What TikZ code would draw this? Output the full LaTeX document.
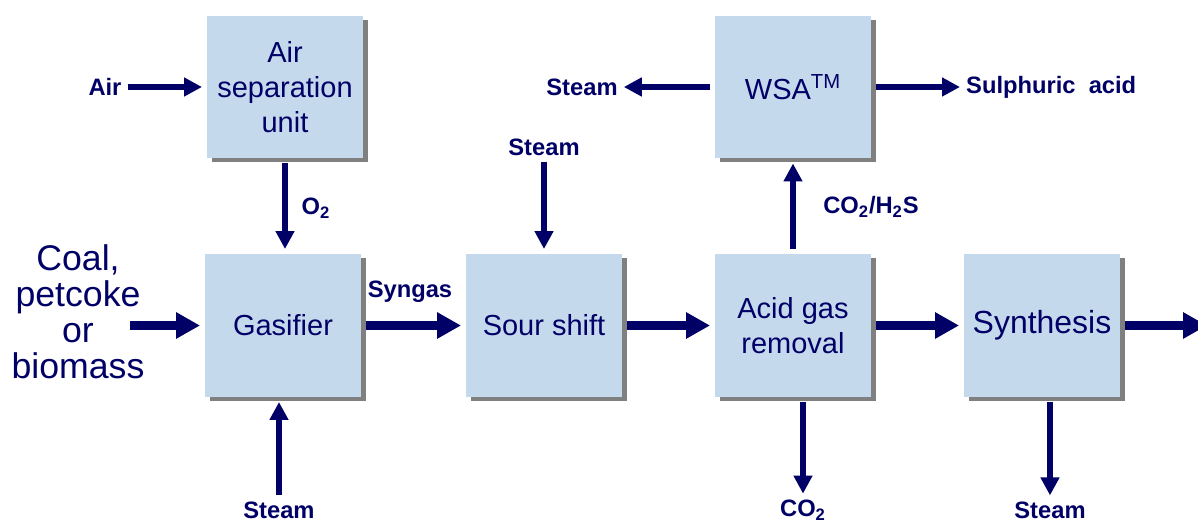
\documentclass[tikz,border=0pt]{standalone}
\usepackage{fontspec}
\setmainfont{Liberation Sans}
\usetikzlibrary{arrows.meta,shadows}
\definecolor{navy}{RGB}{0,0,102}
\definecolor{boxblue}{RGB}{197,217,237}
\begin{document}
\begin{tikzpicture}[x=0.02cm,y=-0.02cm,
    mainarrow/.style={line width=0.18cm,-{Triangle[length=0.48cm,width=0.5cm]}},
    sidearrow/.style={line width=0.13cm,-{Triangle[length=0.36cm,width=0.36cm]}}]

      \useasboundingbox (0,0) rectangle (1198,523);

      \begin{scope}[every node/.style={fill=boxblue,text=navy,align=center,
          minimum width=3.12cm,minimum height=2.86cm,outer sep=0.1cm,
          drop shadow={shadow xshift=0.1cm,shadow yshift=-0.08cm,fill=gray,opacity=1},
          font=\fontsize{16.5}{19.9}\selectfont}]
        \node (1) at (285,87)    {Air\\separation\\unit};
        \node (2) at (283,325.5) {Gasifier};
        \node (3) at (544,325.5) {Sour shift};
        \node (4) at (793,325.5) {Acid gas\\removal};
        \node (5) at (1042,325.5) [font=\fontsize{18.2}{22}\selectfont] {Synthesis};
        \node (6) at (793,87)    {WSA\textsuperscript{TM}};
      \end{scope}

      \begin{scope}[every node/.style={text=navy,font=\bfseries\fontsize{13.5}{16}\selectfont}]
        \node (7)  at (105,87)  {Air};
        \node (8)  at (316,208) {O\textsubscript{2}};
        \node (9)  at (410,292) {Syngas};
        \node (10) at (544,147) {Steam};
        \node (11) at (279,510) {Steam};
        \node (12) at (582,87)  {Steam};
        \node (13) at (960,87) [anchor=west] {Sulphuric\ \ acid};
        \node (14) at (871,207) {CO\textsubscript{2}/H\textsubscript{2}S};
        \node (15) at (803,510) {CO\textsubscript{2}};
        \node (16) at (1050,510) {Steam};
        \node (17) at (78,312) [align=center,font=\fontsize{20.3}{20.5}\selectfont]
          {Coal,\\petcoke\\or\\biomass};
      \end{scope}

      \coordinate (c) at (130,325.5);
      \coordinate (o) at (1207,325.5);

      \begin{scope}[every edge/.style={draw=navy}]
        \path (c)  edge[mainarrow] (2);
        \path (2)  edge[mainarrow] (3);
        \path (3)  edge[mainarrow] (4);
        \path (4)  edge[mainarrow] (5);
        \path (5)  edge[mainarrow] (o);
        \path (7)  edge[sidearrow] (1);
        \path (1)  edge[sidearrow] (1 |- 2.north);
        \path (10) edge[sidearrow] (10 |- 3.north);
        \path (11) edge[sidearrow] (11 |- 2.south);
        \path (4)  edge[sidearrow] (6);
        \path (6)  edge[sidearrow] (12);
        \path (6)  edge[sidearrow] (13);
        \path (4.south -| 15) edge[sidearrow] (15);
        \path (5.south -| 16) edge[sidearrow] (16);
      \end{scope}

    \end{tikzpicture}
\end{document}
